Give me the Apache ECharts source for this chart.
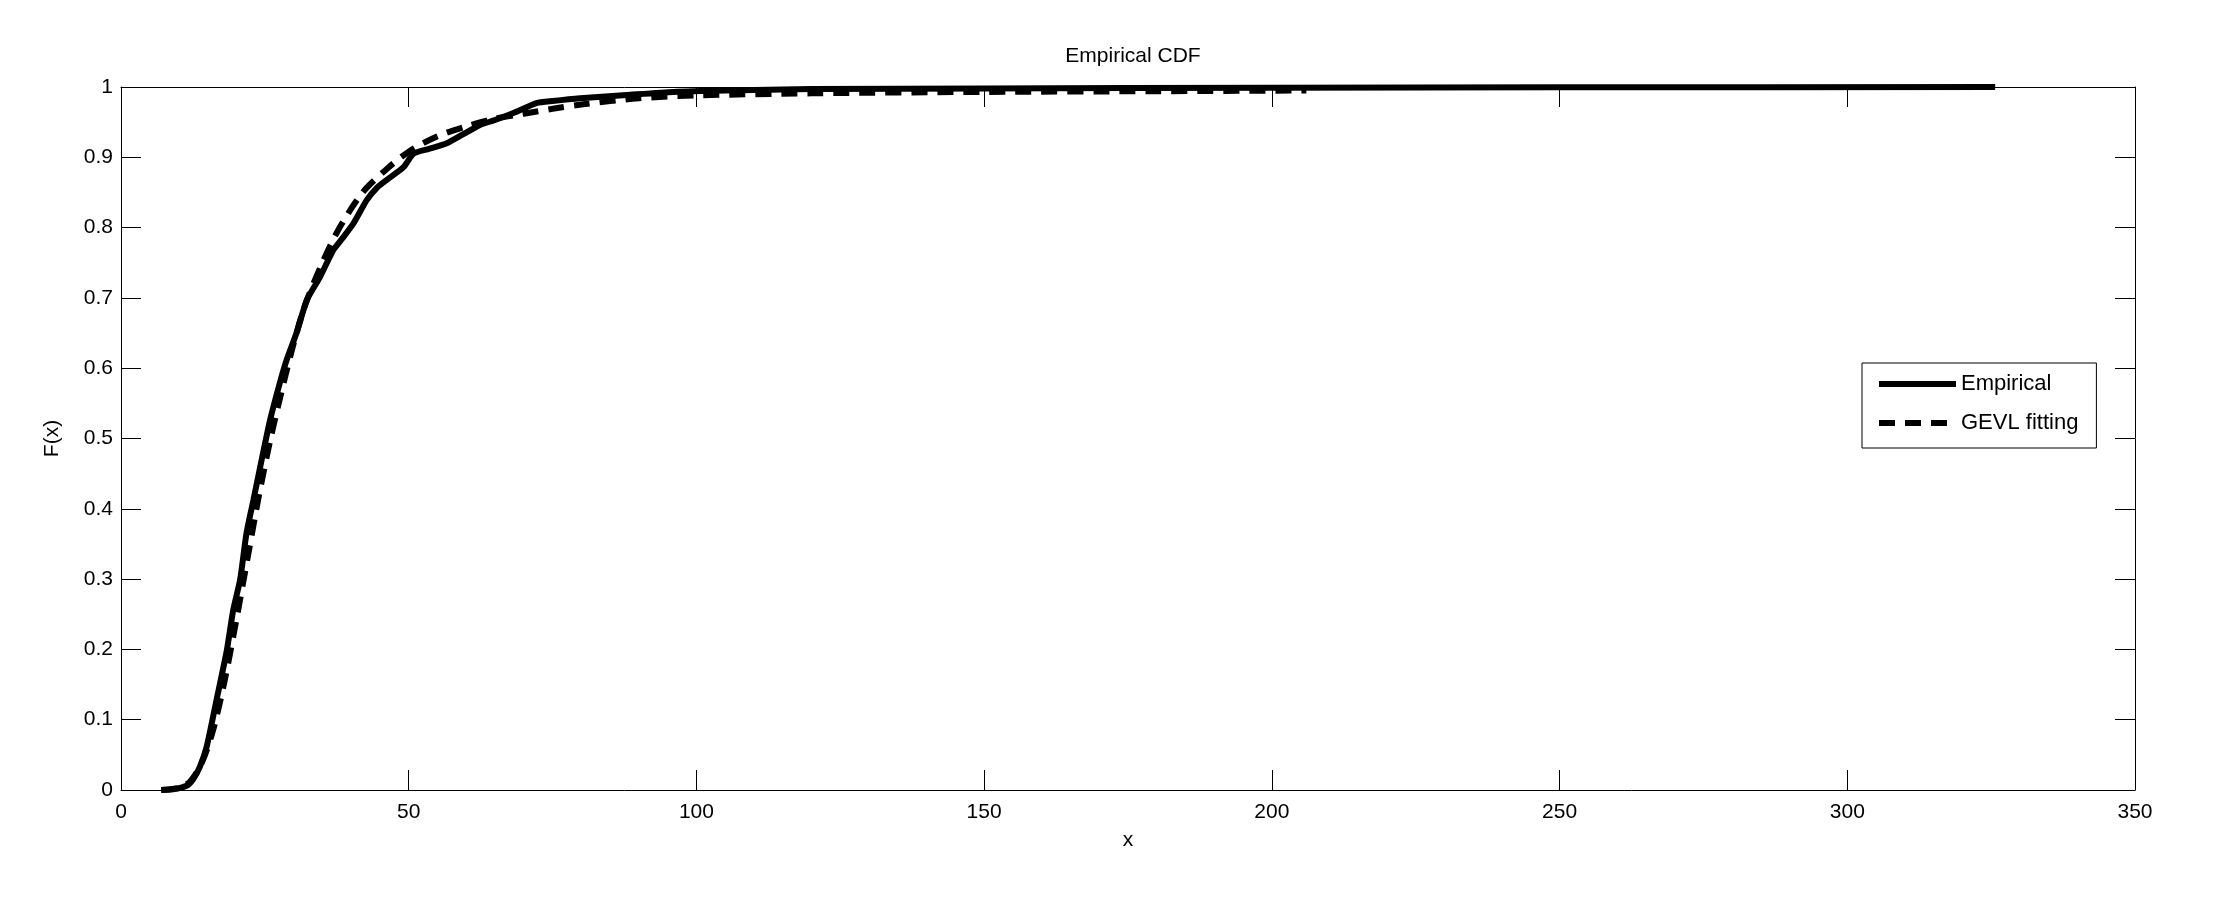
<!DOCTYPE html>
<html>
<head>
<meta charset="utf-8">
<script src="https://cdn.jsdelivr.net/npm/echarts@6/dist/echarts.min.js"></script>
<style>
  html, body { margin: 0; padding: 0; background: #fff; }
  #chart { width: 2218px; height: 912px; }
</style>
</head>
<body>
<div id="chart"></div>
<script>
// empirical CDF
const empX = [7, 9, 11.4, 12.5, 13.7, 14.9, 16.6, 18.4, 19.5, 20.7, 21.8, 23.0, 24.2, 25.9, 27.6, 28.8, 30.5, 32.3, 34.6, 36.9, 38.5, 40.4, 42.7, 44.5, 46.2, 49.1, 50.8, 53.5, 56.6, 59.5, 62.4, 65, 68.2, 72.2, 75, 79.8, 88.5, 96, 105, 120, 150, 200, 250, 325.7]
const empY = [0, 0.001, 0.006, 0.015, 0.033, 0.062, 0.128, 0.199, 0.256, 0.299, 0.365, 0.412, 0.46, 0.526, 0.579, 0.612, 0.65, 0.697, 0.73, 0.768, 0.785, 0.806, 0.839, 0.857, 0.868, 0.886, 0.905, 0.912, 0.920, 0.933, 0.946, 0.953, 0.963, 0.977, 0.980, 0.984, 0.989, 0.993, 0.995, 0.997, 0.998, 0.999, 0.9995, 1.0]

// GEVL fitted CDF
const gevX = [7, 10, 12, 14, 16, 18, 20, 22, 24, 26, 28, 30, 32, 35, 38, 42, 46, 50, 55, 60, 65, 70, 75, 80, 90, 100, 120, 150, 180, 206]
const gevY = [0.0, 0.003, 0.012, 0.038, 0.085, 0.155, 0.24, 0.33, 0.42, 0.5, 0.57, 0.635, 0.69, 0.75, 0.8, 0.85, 0.882, 0.908, 0.93, 0.944, 0.955, 0.962, 0.969, 0.975, 0.984, 0.988, 0.991, 0.993, 0.994, 0.995]

const xTicks = [0, 50, 100, 150, 200, 250, 300, 350]
const yTicks = [0, 0.1, 0.2, 0.3, 0.4, 0.5, 0.6, 0.7, 0.8, 0.9, 1]

const font = 'Liberation Sans, Arial, sans-serif'
const zip = (xs, ys) => xs.map((v, i) => [v, ys[i]])

const chart = echarts.init(document.getElementById('chart'), null, { renderer: 'canvas' })

const tickStyle = { show: true, inside: true, length: 20, lineStyle: { color: '#000', width: 1 } }
const lineAxis = { show: true, onZero: false, lineStyle: { color: '#000', width: 1 } }

chart.setOption({
  animation: false,
  backgroundColor: '#fff',
  title: {
    text: 'Empirical CDF',
    left: 1128,
    textAlign: 'center',
    top: 41,
    textStyle: { fontFamily: font, fontSize: 21, fontWeight: 'normal', color: '#000' },
  },
  grid: { left: 121, right: 83, top: 87, bottom: 122 },
  legend: {
    orient: 'vertical',
    left: 1862,
    top: 363,
    padding: [10, 18, 14, 14],
    itemGap: 17,
    itemWidth: 77,
    itemHeight: 20,
    borderColor: '#000',
    borderWidth: 1,
    borderRadius: 0,
    itemStyle: { opacity: 0 },
    lineStyle: { width: 6, color: '#000' },
    textStyle: { fontFamily: font, fontSize: 22, color: '#000' },
    data: ['Empirical', 'GEVL fitting'],
  },
  xAxis: [
    {
      type: 'value', min: 0, max: 350, interval: 50,
      name: 'x', nameLocation: 'middle', nameGap: 40,
      nameTextStyle: { fontFamily: font, fontSize: 21, color: '#000' },
      axisLine: lineAxis, axisTick: tickStyle, splitLine: { show: false },
      axisLabel: { fontFamily: font, fontSize: 21, color: '#000', margin: 12,
        formatter: (v) => xTicks.includes(v) ? String(v) : '' },
    },
    {
      type: 'value', min: 0, max: 350, interval: 50, position: 'top',
      axisLine: lineAxis, axisTick: tickStyle, splitLine: { show: false },
      axisLabel: { show: false },
    },
  ],
  yAxis: [
    {
      type: 'value', min: 0, max: 1, interval: 0.1,
      name: 'F(x)', nameLocation: 'middle', nameGap: 58,
      nameTextStyle: { fontFamily: font, fontSize: 21, color: '#000' },
      axisLine: lineAxis, axisTick: tickStyle, splitLine: { show: false },
      axisLabel: { fontFamily: font, fontSize: 21, color: '#000', margin: 8,
        formatter: (v) => {
          const t = yTicks.find((k) => Math.abs(k - v) < 1e-9)
          return t === undefined ? '' : String(t)
        } },
    },
    {
      type: 'value', min: 0, max: 1, interval: 0.1, position: 'right',
      axisLine: lineAxis, axisTick: tickStyle, splitLine: { show: false },
      axisLabel: { show: false },
    },
  ],
  series: [
    {
      name: 'Empirical',
      type: 'line',
      data: zip(empX, empY),
      showSymbol: false,
      symbol: 'none',
      smooth: 0.2,
      lineStyle: { color: '#000', width: 6 },
      itemStyle: { color: '#000' },
    },
    {
      name: 'GEVL fitting',
      type: 'line',
      data: zip(gevX, gevY),
      showSymbol: false,
      symbol: 'none',
      smooth: 0.3,
      lineStyle: { color: '#000', width: 6, type: [16, 10] },
      itemStyle: { color: '#000' },
    },
  ],
})
</script>
</body>
</html>
